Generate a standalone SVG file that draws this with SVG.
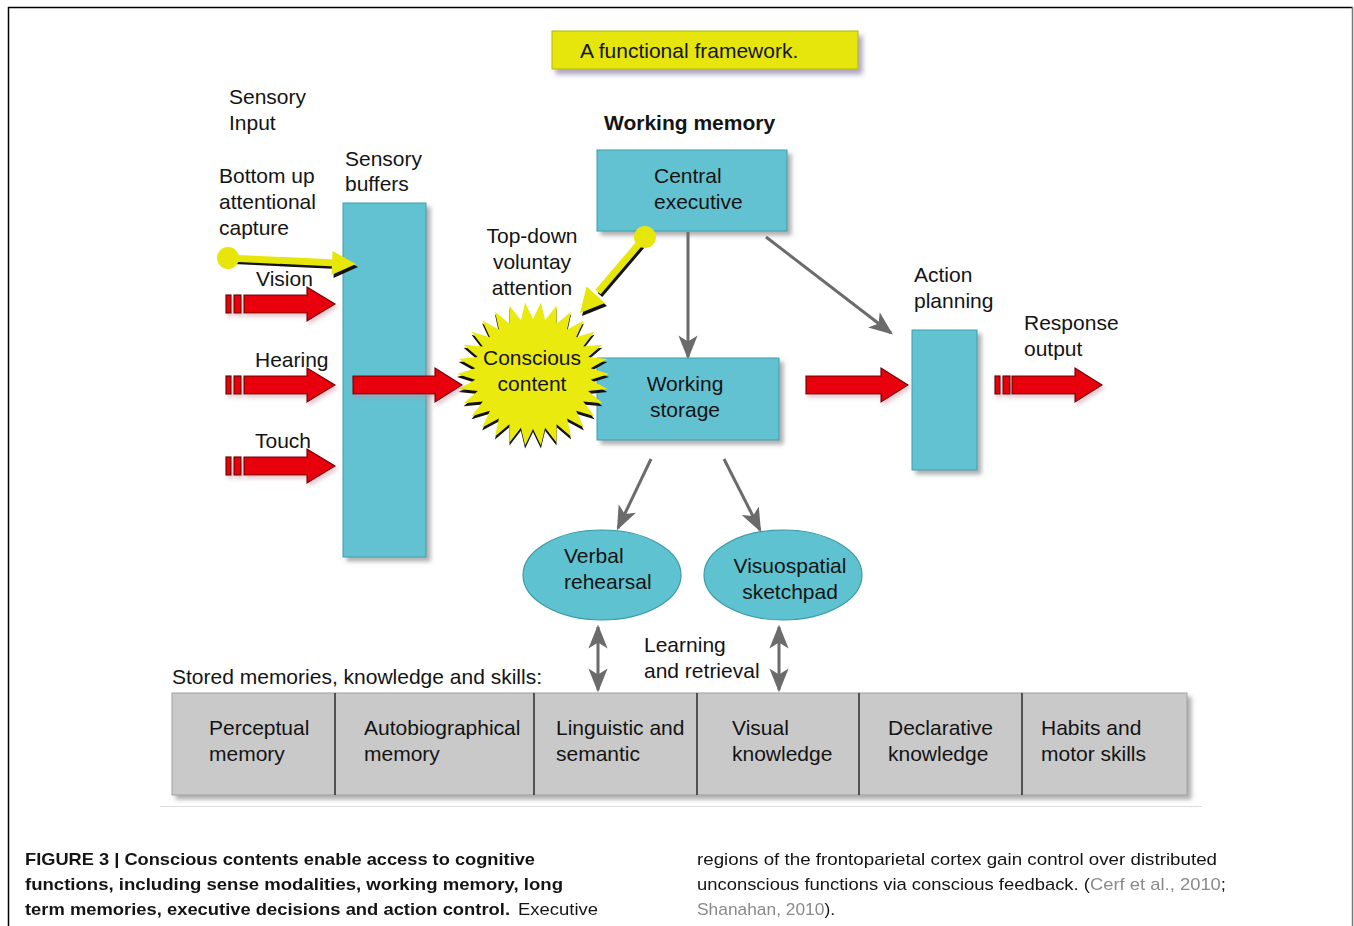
<svg xmlns="http://www.w3.org/2000/svg" width="1354" height="926" viewBox="0 0 1354 926">
<defs>
<style>
text{font-family:"Liberation Sans",Arial,sans-serif;fill:#141414}
.t{font-size:21px}
.c{text-anchor:middle}
.box{fill:#63c2d2;stroke:#3d9eab;stroke-width:1}
.red{fill:#e8000c;stroke:#6e0000;stroke-width:1.2}
.gray{stroke:#6b6b6b;stroke-width:3;fill:none}
.cap{font-size:17px}
.cite{fill:#8a8a8a}
</style>
<filter id="sh" x="-20%" y="-20%" width="140%" height="140%">
<feDropShadow dx="4" dy="4" stdDeviation="2" flood-color="#7a7a7a" flood-opacity="0.6"/>
</filter>
<filter id="shr" x="-20%" y="-40%" width="140%" height="180%">
<feDropShadow dx="2" dy="3" stdDeviation="2" flood-color="#c98a9a" flood-opacity="0.5"/>
</filter>
<filter id="sht" x="-10%" y="-30%" width="120%" height="180%">
<feDropShadow dx="4" dy="5" stdDeviation="2.5" flood-color="#8a80a8" flood-opacity="0.7"/>
</filter>
<marker id="gh" markerUnits="userSpaceOnUse" markerWidth="24" markerHeight="24" viewBox="0 0 20 20" refX="18" refY="10" orient="auto-start-reverse">
<path d="M0,2 L20,10 L0,18 L5,10 Z" fill="#6b6b6b"/>
</marker>
</defs>

<!-- frame -->
<path d="M8.5,926 V7.5 H1352.5" fill="none" stroke="#000" stroke-width="1.5"/>
<line x1="1352.5" y1="7.5" x2="1352.5" y2="926" stroke="#777" stroke-width="1.5"/>

<!-- title -->
<g id="title">
<rect x="552" y="31" width="306" height="38" fill="#e6e60a" stroke="#b5b500" stroke-width="1" filter="url(#sht)"/>
<text class="t" x="580" y="58">A functional framework.</text>
</g>

<!-- labels -->
<g id="labels">
<text class="t" x="229" y="104">Sensory</text>
<text class="t" x="229" y="130">Input</text>
<text x="604" y="130" style="font-size:21px;font-weight:bold">Working memory</text>
<text class="t" x="345" y="166">Sensory</text>
<text class="t" x="345" y="191">buffers</text>
<text class="t" x="219" y="183">Bottom up</text>
<text class="t" x="219" y="209">attentional</text>
<text class="t" x="219" y="235">capture</text>
<text class="t c" x="532" y="243">Top-down</text>
<text class="t c" x="532" y="269">voluntay</text>
<text class="t c" x="532" y="295">attention</text>
<text class="t" x="256" y="286">Vision</text>
<text class="t" x="255" y="367">Hearing</text>
<text class="t" x="255" y="448">Touch</text>
<text class="t" x="914" y="282">Action</text>
<text class="t" x="914" y="308">planning</text>
<text class="t" x="1024" y="330">Response</text>
<text class="t" x="1024" y="356">output</text>
<text class="t" x="644" y="652">Learning</text>
<text class="t" x="644" y="678">and retrieval</text>
<text class="t" x="172" y="684">Stored memories, knowledge and skills:</text>
</g>

<!-- nodes -->
<g id="sensory-buffers">
<rect class="box" x="343" y="203" width="83" height="354" filter="url(#sh)"/>
</g>
<g id="central-executive">
<rect class="box" x="597" y="150" width="190" height="81" filter="url(#sh)"/>
<text class="t" x="654" y="183">Central</text>
<text class="t" x="654" y="209">executive</text>
</g>
<g id="working-storage">
<rect class="box" x="597" y="358" width="182" height="82" filter="url(#sh)"/>
<text class="t c" x="685" y="391">Working</text>
<text class="t c" x="685" y="417">storage</text>
</g>
<g id="action-planning">
<rect class="box" x="912" y="330" width="65" height="140" filter="url(#sh)"/>
</g>
<g id="conscious-content">
<polygon transform="translate(0,3)" fill="#111" points="609,374 590.7,368.3 607.3,359 588.2,357 602.4,344.7 583.2,346.5 594.5,331.7 576.1,337.2 583.9,320.5 567.1,329.5 571,311.6 556.6,323.8 556.5,305.5 545.1,320.2 540.9,302.4 533,319 525.1,302.4 520.9,320.2 509.5,305.5 509.4,323.8 495,311.6 498.9,329.5 482.1,320.5 489.9,337.2 471.5,331.7 482.8,346.5 463.6,344.7 477.8,357 458.7,359 475.3,368.3 457,374 475.3,379.7 458.7,389 477.8,391 463.6,403.3 482.8,401.5 471.5,416.3 489.9,410.8 482.1,427.5 498.9,418.5 495,436.4 509.4,424.2 509.5,442.5 520.9,427.8 525.1,445.6 533,429 540.9,445.6 545.1,427.8 556.5,442.5 556.6,424.2 571,436.4 567.1,418.5 583.9,427.5 576.1,410.8 594.5,416.3 583.2,401.5 602.4,403.3 588.2,391 607.3,389 590.7,379.7"/>
<polygon fill="#eaea0e" points="609,374 590.7,368.3 607.3,359 588.2,357 602.4,344.7 583.2,346.5 594.5,331.7 576.1,337.2 583.9,320.5 567.1,329.5 571,311.6 556.6,323.8 556.5,305.5 545.1,320.2 540.9,302.4 533,319 525.1,302.4 520.9,320.2 509.5,305.5 509.4,323.8 495,311.6 498.9,329.5 482.1,320.5 489.9,337.2 471.5,331.7 482.8,346.5 463.6,344.7 477.8,357 458.7,359 475.3,368.3 457,374 475.3,379.7 458.7,389 477.8,391 463.6,403.3 482.8,401.5 471.5,416.3 489.9,410.8 482.1,427.5 498.9,418.5 495,436.4 509.4,424.2 509.5,442.5 520.9,427.8 525.1,445.6 533,429 540.9,445.6 545.1,427.8 556.5,442.5 556.6,424.2 571,436.4 567.1,418.5 583.9,427.5 576.1,410.8 594.5,416.3 583.2,401.5 602.4,403.3 588.2,391 607.3,389 590.7,379.7"/>
<text class="t c" x="532" y="365">Conscious</text>
<text class="t c" x="532" y="391">content</text>
</g>
<g id="verbal-rehearsal">
<ellipse cx="602" cy="575" rx="79" ry="45" fill="#5fc2d0" stroke="#3a9aa6" stroke-width="1.2"/>
<text class="t" x="564" y="563">Verbal</text>
<text class="t" x="564" y="589">rehearsal</text>
</g>
<g id="visuospatial-sketchpad">
<ellipse cx="783" cy="575" rx="79" ry="45" fill="#5fc2d0" stroke="#3a9aa6" stroke-width="1.2"/>
<text class="t c" x="790" y="573">Visuospatial</text>
<text class="t c" x="790" y="599">sketchpad</text>
</g>
<g id="stored-memories">
<line x1="160" y1="806.5" x2="1202" y2="806.5" stroke="#dcdcdc" stroke-width="1"/>
<rect x="172" y="693" width="1015" height="102" fill="#c9c9c9" stroke="#a0a0a0" stroke-width="1" filter="url(#sh)"/>
<g stroke="#2a2a2a" stroke-width="1.5">
<line x1="335" y1="693" x2="335" y2="795"/>
<line x1="534" y1="693" x2="534" y2="795"/>
<line x1="697" y1="693" x2="697" y2="795"/>
<line x1="859" y1="693" x2="859" y2="795"/>
<line x1="1022" y1="693" x2="1022" y2="795"/>
</g>
<text class="t" x="209" y="735">Perceptual</text>
<text class="t" x="209" y="761">memory</text>
<text class="t" x="364" y="735">Autobiographical</text>
<text class="t" x="364" y="761">memory</text>
<text class="t" x="556" y="735">Linguistic and</text>
<text class="t" x="556" y="761">semantic</text>
<text class="t" x="732" y="735">Visual</text>
<text class="t" x="732" y="761">knowledge</text>
<text class="t" x="888" y="735">Declarative</text>
<text class="t" x="888" y="761">knowledge</text>
<text class="t" x="1041" y="735">Habits and</text>
<text class="t" x="1041" y="761">motor skills</text>
</g>

<!-- connectors -->
<g id="connectors">
<!-- red sensory arrows -->
<g filter="url(#shr)">
<g transform="translate(0,304)">
<rect class="red" x="226" y="-9" width="5" height="18"/><rect class="red" x="234" y="-9" width="7" height="18"/>
<path class="red" d="M244,-9 H307 V-17 L335,0 L307,17 V9 H244 Z"/>
</g>
<g transform="translate(0,385)">
<rect class="red" x="226" y="-9" width="5" height="18"/><rect class="red" x="234" y="-9" width="7" height="18"/>
<path class="red" d="M244,-9 H307 V-17 L335,0 L307,17 V9 H244 Z"/>
</g>
<g transform="translate(0,466)">
<rect class="red" x="226" y="-9" width="5" height="18"/><rect class="red" x="234" y="-9" width="7" height="18"/>
<path class="red" d="M244,-9 H307 V-17 L335,0 L307,17 V9 H244 Z"/>
</g>
<path class="red" d="M353,376 H435 V368 L462,385 L435,402 V394 H353 Z"/>
<path class="red" d="M806,376 H881 V368 L908,385 L881,402 V394 H806 Z"/>
<g transform="translate(0,385)">
<rect class="red" x="995" y="-9" width="5" height="18"/><rect class="red" x="1003" y="-9" width="7" height="18"/>
<path class="red" d="M1012,-9 H1075 V-17 L1102,0 L1075,17 V9 H1012 Z"/>
</g>
</g>
<!-- yellow attention arrows -->
<g transform="translate(2,3)" fill="#111" stroke="#111">
<line x1="232" y1="258" x2="336" y2="263" stroke-width="6"/>
<polygon points="356,264 331.5,275 332.5,251" stroke="none"/>
<line x1="645" y1="237" x2="598" y2="292" stroke-width="6"/>
<polygon points="580,313 605,303 586.5,286.5" stroke="none"/>
</g>
<g fill="#e6e60a" stroke="#e6e60a">
<circle cx="228" cy="258" r="11" stroke="none"/>
<line x1="228" y1="258" x2="336" y2="263" stroke-width="7"/>
<polygon points="356,264 331.5,275 332.5,251" stroke="none"/>
<circle cx="645" cy="237" r="11" stroke="none"/>
<line x1="645" y1="237" x2="598" y2="292" stroke-width="7"/>
<polygon points="580,313 605,303 586.5,286.5" stroke="none"/>
</g>
<!-- gray arrows -->
<line class="gray" x1="688" y1="232" x2="688" y2="357" marker-end="url(#gh)"/>
<line class="gray" x1="766" y1="237" x2="891" y2="333" marker-end="url(#gh)"/>
<line class="gray" x1="651" y1="459" x2="618" y2="528" marker-end="url(#gh)"/>
<line class="gray" x1="724" y1="459" x2="760" y2="530" marker-end="url(#gh)"/>
<line class="gray" x1="598" y1="627" x2="598" y2="690" marker-start="url(#gh)" marker-end="url(#gh)"/>
<line class="gray" x1="779" y1="627" x2="779" y2="690" marker-start="url(#gh)" marker-end="url(#gh)"/>
</g>

<!-- caption -->
<g id="caption">
<text class="cap" x="25" y="865" font-weight="bold" textLength="510" lengthAdjust="spacingAndGlyphs">FIGURE 3 | Conscious contents enable access to cognitive</text>
<text class="cap" x="25" y="890" font-weight="bold" textLength="538" lengthAdjust="spacingAndGlyphs">functions, including sense modalities, working memory, long</text>
<text class="cap" x="25" y="915" font-weight="bold" textLength="485" lengthAdjust="spacingAndGlyphs">term memories, executive decisions and action control.</text>
<text class="cap" x="518" y="915" textLength="80" lengthAdjust="spacingAndGlyphs">Executive</text>
<text class="cap" x="697" y="865" textLength="520" lengthAdjust="spacingAndGlyphs">regions of the frontoparietal cortex gain control over distributed</text>
<text class="cap" x="697" y="890" textLength="529" lengthAdjust="spacingAndGlyphs">unconscious functions via conscious feedback. (<tspan class="cite">Cerf et al., 2010</tspan>;</text>
<text class="cap" x="697" y="915" textLength="138" lengthAdjust="spacingAndGlyphs"><tspan class="cite">Shanahan, 2010</tspan>).</text>
</g>
</svg>
